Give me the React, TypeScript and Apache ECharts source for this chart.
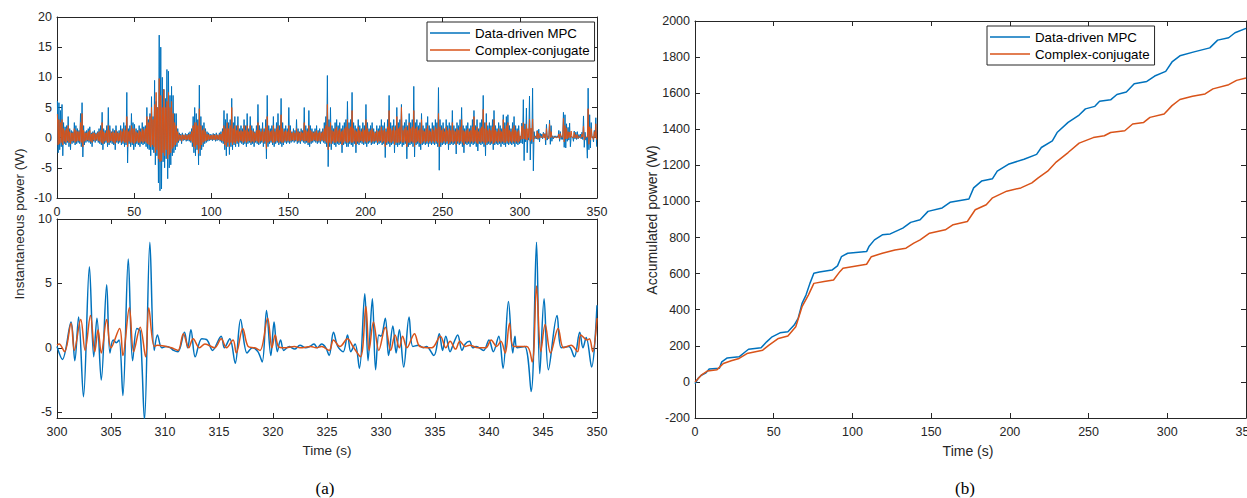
import React, { useEffect, useRef } from "react";
import * as echarts from "echarts";

// ---- (a) top: instantaneous power, 1 s bins, peak / trough per bin, t = 0..349 s
const mpcPeak = [
  6.1, 5.8, 4.5, 5.5, 2.5, 1.8, 2.0, 3.5, 1.5, 1.2,
  1.0, 2.5, 2.0, 1.5, 1.2, 4.0, 5.8, 2.0, 1.0, 1.2,
  1.5, 1.8, 0.8, 1.0, 1.2, 0.8, 1.0, 1.5, 2.0, 4.2,
  1.5, 1.2, 2.0, 5.0, 2.0, 1.0, 1.5, 1.2, 2.0, 1.0,
  1.2, 2.0, 1.5, 2.5, 2.0, 7.5, 1.5, 2.0, 4.0, 2.5,
  2.2, 1.5, 1.2, 2.0, 1.5, 2.5, 1.8, 2.0, 5.0, 3.0,
  4.0, 6.8, 3.5, 9.5, 6.0, 5.0, 17.0, 15.0, 10.0, 8.0,
  6.5, 11.3, 11.0, 7.0, 8.5, 7.0, 4.0, 4.0, 1.5, 0.8,
  0.6, 0.8, 0.5, 0.7, 0.6, 0.8, 1.0, 1.5, 3.5, 5.0,
  4.0, 3.0, 8.7, 3.5, 2.0, 2.5, 1.5, 1.0, 0.8, 0.6,
  0.5, 0.7, 0.6, 0.8, 0.5, 0.8, 1.0, 1.5, 4.5, 3.0,
  4.0, 2.5, 3.0, 6.5, 2.5, 3.5, 2.0, 3.5, 1.5, 2.0,
  1.5, 3.0, 2.0, 4.0, 1.5, 3.5, 2.0, 1.5, 1.0, 2.0,
  5.5, 2.0, 1.5, 2.5, 1.5, 3.0, 7.0, 2.0, 1.5, 2.0,
  3.5, 1.5, 2.5, 4.0, 2.0, 6.5, 2.5, 1.5, 2.0, 1.5,
  5.0, 2.0, 1.0, 1.5, 1.2, 3.0, 1.5, 1.0, 1.5, 1.2,
  5.0, 2.0, 1.5, 4.5, 2.0, 1.5, 1.0, 1.5, 2.0, 1.2,
  1.5, 1.0, 1.5, 2.5, 3.5, 10.3, 3.0, 5.0, 2.0, 1.5,
  2.5, 3.0, 2.0, 2.5, 1.5, 2.0, 2.5, 3.0, 6.0, 2.5,
  3.0, 7.5, 2.5, 2.0, 1.5, 3.0, 2.0, 1.5, 2.5, 2.0,
  5.5, 2.5, 1.5, 2.0, 2.5, 1.5, 1.0, 2.0, 1.5, 2.0,
  3.0, 2.0, 2.5, 1.5, 3.0, 7.0, 2.5, 2.0, 3.0, 2.0,
  5.0, 2.5, 3.0, 5.5, 2.0, 2.5, 3.0, 2.0, 4.0, 2.5,
  3.0, 8.5, 2.5, 3.0, 2.0, 2.5, 4.0, 2.0, 1.5, 2.5,
  3.5, 2.0, 1.5, 2.5, 2.0, 3.0, 2.5, 8.3, 3.0, 2.0,
  2.5, 1.5, 3.0, 2.0, 2.5, 2.0, 4.5, 2.0, 1.5, 2.5,
  2.0, 3.0, 5.0, 2.0, 1.5, 2.0, 2.5, 1.5, 2.0, 3.0,
  4.5, 2.0, 3.0, 1.5, 2.5, 3.0, 7.0, 2.5, 4.0, 2.0,
  2.5, 2.0, 3.0, 4.5, 2.0, 1.5, 2.5, 2.0, 1.5, 3.8,
  2.5, 3.5, 3.8, 2.0, 1.5, 2.5, 3.5, 2.0, 1.5, 2.0,
  0.2, 2.4, 6.3, 2.3, 4.9, 0.6, 6.9, 1.5, 8.2, 1.0,
  0.3, 1.2, 1.4, 0.7, 0.6, 0.9, 0.7, 2.2, 0.3, 2.9,
  2.0, 0.3, 0.3, 0.3, 0.3, 1.2, 1.0, 0.3, 4.2, 3.8,
  2.3, 1.7, 2.4, 0.2, 0.1, 1.1, 0.9, 1.0, 0.5, 0.6,
  0.9, 3.6, 0.9, 0.1, 8.2, 3.8, 2.5, 0.1, 1.2, 3.3,
];
const mpcTrough = [
  -2.5, -2.0, -1.5, -3.0, -1.0, -1.2, -0.8, -1.5, -2.0, -1.0,
  -0.8, -1.2, -1.0, -0.8, -1.0, -1.5, -3.2, -1.2, -0.8, -0.6,
  -0.8, -1.0, -1.5, -0.6, -0.8, -0.5, -0.8, -1.0, -1.2, -2.0,
  -1.0, -0.8, -1.5, -1.2, -0.8, -1.0, -1.2, -2.0, -0.8, -1.0,
  -0.8, -1.2, -1.0, -1.5, -1.2, -4.2, -1.0, -1.5, -1.2, -2.0,
  -1.5, -1.0, -1.2, -1.5, -1.0, -1.2, -1.0, -1.5, -1.8, -2.0,
  -3.0, -2.0, -2.5, -4.5, -3.0, -7.5, -8.8, -8.5, -4.0, -5.0,
  -3.5, -6.8, -5.0, -4.5, -3.0, -2.5, -2.0, -1.5, -0.8, -0.5,
  -1.0, -0.5, -0.4, -0.6, -0.5, -0.6, -0.8, -1.5, -2.5, -3.0,
  -2.0, -4.5, -3.0, -2.0, -1.5, -1.0, -0.8, -0.6, -0.5, -0.4,
  -0.5, -0.4, -0.6, -0.5, -0.4, -0.6, -0.8, -1.0, -2.0, -3.0,
  -1.5, -2.8, -1.5, -2.0, -1.2, -1.5, -1.0, -1.5, -0.8, -1.0,
  -1.2, -1.0, -1.5, -1.0, -0.8, -1.2, -1.0, -1.5, -0.8, -1.0,
  -1.2, -1.0, -0.8, -1.5, -1.0, -3.5, -1.5, -1.0, -0.8, -1.2,
  -1.5, -1.0, -0.8, -1.2, -1.0, -1.5, -1.2, -0.8, -1.0, -0.8,
  -1.0, -0.8, -0.6, -0.8, -0.6, -1.0, -0.8, -1.0, -0.6, -0.8,
  -1.0, -0.8, -1.2, -1.5, -1.0, -0.8, -0.6, -0.8, -1.0, -0.8,
  -1.0, -0.6, -0.8, -1.0, -1.5, -4.8, -1.5, -2.0, -1.0, -1.2,
  -1.5, -1.0, -1.2, -1.0, -2.5, -1.2, -1.0, -1.5, -1.5, -1.0,
  -1.2, -1.5, -1.0, -2.5, -1.0, -1.2, -0.8, -1.0, -1.2, -1.0,
  -1.5, -1.0, -0.8, -1.2, -1.0, -1.0, -0.8, -1.2, -1.0, -0.8,
  -1.2, -1.0, -3.3, -1.2, -1.0, -1.5, -1.2, -1.0, -2.5, -1.2,
  -1.5, -1.2, -1.0, -1.5, -1.2, -1.0, -3.5, -1.5, -1.2, -1.0,
  -1.5, -3.2, -1.2, -1.0, -1.5, -2.0, -1.2, -1.0, -1.2, -1.0,
  -1.5, -1.0, -1.2, -1.0, -1.2, -1.0, -1.5, -5.4, -1.5, -1.2,
  -1.0, -1.2, -1.0, -2.0, -1.2, -1.0, -1.2, -1.0, -2.7, -1.0,
  -1.2, -1.0, -1.5, -2.5, -1.0, -1.2, -1.0, -1.5, -1.0, -1.2,
  -1.0, -1.5, -2.2, -1.0, -1.2, -1.0, -1.5, -3.0, -1.2, -1.0,
  -1.2, -1.0, -2.0, -1.2, -1.0, -1.2, -1.0, -1.5, -1.0, -1.2,
  -1.5, -1.0, -1.2, -1.0, -1.2, -1.0, -1.5, -1.0, -1.2, -1.0,
  -0.9, -1.0, -3.8, -0.7, -2.5, -0.4, -3.7, -1.0, -5.5, -0.2,
  -0.2, -0.3, -0.7, 0.0, -0.2, 0.0, -1.2, -0.4, 0.0, -1.1,
  -0.6, -0.2, 0.0, 0.0, 0.0, -0.6, -0.3, -0.3, -1.6, -1.7,
  -0.6, -0.4, -1.5, 0.1, -0.6, -0.2, -0.3, -0.2, 0.0, -0.2,
  -0.3, -1.6, -0.4, -3.4, -2.0, -1.7, 0.0, -0.7, 0.0, -1.5,
];
const ccPeak = [
  3.9, 3.0, 2.5, 3.0, 1.5, 1.2, 1.5, 2.0, 1.0, 0.8,
  0.8, 1.5, 1.2, 1.0, 1.0, 2.5, 4.0, 1.2, 0.8, 0.8,
  1.0, 1.2, 0.6, 0.8, 0.8, 0.6, 0.8, 1.0, 1.2, 2.5,
  1.0, 0.8, 1.2, 2.0, 1.2, 0.8, 1.0, 0.8, 1.2, 0.8,
  0.8, 1.2, 1.0, 1.5, 1.2, 3.5, 1.0, 1.2, 2.0, 1.5,
  1.5, 1.0, 0.8, 1.2, 1.0, 1.5, 1.2, 1.5, 3.5, 2.5,
  3.5, 5.0, 3.0, 5.5, 7.5, 5.0, 9.8, 7.0, 5.0, 8.0,
  5.0, 6.0, 7.5, 5.0, 6.0, 4.0, 2.5, 2.0, 1.0, 0.5,
  0.4, 0.5, 0.4, 0.5, 0.4, 0.5, 0.6, 1.0, 2.0, 2.5,
  2.5, 2.0, 4.8, 2.0, 1.2, 1.5, 1.0, 0.6, 0.5, 0.4,
  0.4, 0.5, 0.4, 0.5, 0.4, 0.5, 0.6, 1.0, 2.0, 1.5,
  2.5, 1.5, 2.0, 5.0, 1.5, 2.0, 1.2, 2.0, 1.0, 1.2,
  1.0, 2.0, 1.2, 2.0, 1.0, 2.0, 1.2, 1.0, 0.8, 1.2,
  2.5, 1.2, 1.0, 1.5, 1.0, 1.8, 3.5, 1.2, 1.0, 1.2,
  2.0, 1.0, 1.5, 2.0, 1.2, 3.8, 1.5, 1.0, 1.2, 1.0,
  2.0, 1.2, 0.8, 1.0, 0.8, 1.5, 1.0, 0.8, 1.0, 0.8,
  2.5, 1.2, 1.0, 2.0, 1.2, 1.0, 0.8, 1.0, 1.2, 0.8,
  1.0, 0.8, 1.0, 1.5, 2.0, 5.5, 1.8, 2.5, 1.2, 1.0,
  1.5, 1.8, 1.2, 1.5, 1.0, 1.2, 1.5, 1.8, 3.0, 1.5,
  1.8, 4.5, 1.5, 1.2, 1.0, 1.8, 1.2, 1.0, 1.5, 1.2,
  3.0, 1.5, 1.0, 1.2, 1.5, 1.0, 0.8, 1.2, 1.0, 1.2,
  1.8, 1.2, 1.5, 1.0, 1.8, 4.5, 1.5, 1.2, 1.8, 1.2,
  3.5, 1.5, 1.8, 5.0, 1.2, 1.5, 1.8, 1.2, 2.5, 1.5,
  1.8, 4.5, 1.5, 1.8, 1.2, 1.5, 3.0, 1.2, 1.0, 1.5,
  2.0, 1.2, 1.0, 1.5, 1.2, 1.8, 1.5, 4.0, 1.8, 1.2,
  1.5, 1.0, 1.8, 1.2, 1.5, 1.2, 2.5, 1.2, 1.0, 1.5,
  1.2, 1.8, 3.0, 1.2, 1.0, 1.2, 1.5, 1.0, 1.2, 1.8,
  3.5, 1.2, 1.8, 1.0, 1.5, 1.8, 4.7, 1.5, 2.5, 1.2,
  1.5, 1.2, 1.8, 3.0, 1.2, 1.0, 1.5, 1.2, 1.0, 3.0,
  1.5, 2.0, 2.5, 1.2, 1.0, 1.5, 2.0, 1.2, 1.0, 1.2,
  0.3, 1.9, 2.5, 1.4, 2.2, 1.5, 3.1, 1.6, 3.1, 0.2,
  0.1, 1.1, 0.7, 0.3, 0.1, 0.7, 0.6, 1.5, 0.1, 2.3,
  1.0, 0.1, 0.1, 0.1, 0.1, 0.6, 0.7, 0.1, 3.2, 2.0,
  1.6, 1.0, 0.9, 1.1, 0.0, 0.9, 0.5, 0.5, 0.2, 0.0,
  0.6, 1.9, 0.1, 0.1, 4.8, 1.8, 1.5, 0.2, 1.0, 2.3,
];
const ccTrough = [
  -1.2, -1.0, -0.8, -1.2, -0.6, -0.8, -0.5, -0.8, -1.0, -0.6,
  -0.5, -0.8, -0.6, -0.5, -0.6, -0.8, -1.5, -0.6, -0.5, -0.4,
  -0.5, -0.6, -0.8, -0.4, -0.5, -0.3, -0.5, -0.6, -0.8, -1.0,
  -0.6, -0.5, -0.8, -0.8, -0.5, -0.6, -0.8, -1.0, -0.5, -0.6,
  -0.5, -0.8, -0.6, -0.8, -0.8, -1.5, -0.6, -0.8, -0.8, -1.0,
  -0.8, -0.6, -0.8, -0.8, -0.6, -0.8, -0.6, -0.8, -1.0, -1.2,
  -1.5, -1.2, -1.5, -2.5, -2.0, -3.5, -4.0, -3.8, -2.5, -3.0,
  -2.0, -3.5, -2.8, -2.5, -1.8, -1.5, -1.2, -0.8, -0.5, -0.3,
  -0.6, -0.3, -0.3, -0.4, -0.3, -0.4, -0.5, -0.8, -1.5, -1.8,
  -1.2, -2.6, -1.8, -1.2, -0.8, -0.6, -0.5, -0.4, -0.3, -0.3,
  -0.3, -0.3, -0.4, -0.3, -0.3, -0.4, -0.5, -0.6, -1.2, -1.5,
  -0.8, -1.5, -0.8, -1.2, -0.8, -1.0, -0.6, -0.8, -0.5, -0.6,
  -0.8, -0.6, -0.8, -0.6, -0.5, -0.8, -0.6, -0.8, -0.5, -0.6,
  -0.8, -0.6, -0.5, -0.8, -0.6, -1.8, -0.8, -0.6, -0.5, -0.8,
  -0.8, -0.6, -0.5, -0.8, -0.6, -0.8, -0.8, -0.5, -0.6, -0.5,
  -0.6, -0.5, -0.4, -0.5, -0.4, -0.6, -0.5, -0.6, -0.4, -0.5,
  -0.6, -0.5, -0.8, -0.8, -0.6, -0.5, -0.4, -0.5, -0.6, -0.5,
  -0.6, -0.4, -0.5, -0.6, -0.8, -2.0, -0.8, -1.0, -0.6, -0.8,
  -0.8, -0.6, -0.8, -0.6, -1.2, -0.8, -0.6, -0.8, -0.8, -0.6,
  -0.8, -0.8, -0.6, -1.2, -0.6, -0.8, -0.5, -0.6, -0.8, -0.6,
  -0.8, -0.6, -0.5, -0.8, -0.6, -0.6, -0.5, -0.8, -0.6, -0.5,
  -0.8, -0.6, -1.5, -0.8, -0.6, -0.8, -0.8, -0.6, -1.2, -0.8,
  -0.8, -0.8, -0.6, -0.8, -0.8, -0.6, -1.5, -0.8, -0.8, -0.6,
  -0.8, -1.5, -0.8, -0.6, -0.8, -1.0, -0.8, -0.6, -0.8, -0.6,
  -0.8, -0.6, -0.8, -0.6, -0.8, -0.6, -0.8, -1.5, -0.8, -0.8,
  -0.6, -0.8, -0.6, -1.0, -0.8, -0.6, -0.8, -0.6, -1.2, -0.6,
  -0.8, -0.6, -0.8, -1.2, -0.6, -0.8, -0.6, -0.8, -0.6, -0.8,
  -0.6, -0.8, -1.0, -0.6, -0.8, -0.6, -0.8, -1.2, -0.8, -0.6,
  -0.8, -0.6, -1.0, -0.8, -0.6, -0.8, -0.6, -0.8, -0.6, -0.8,
  -0.8, -0.6, -0.8, -0.6, -0.8, -0.6, -0.8, -0.6, -0.8, -0.6,
  -0.3, -0.2, -0.2, -0.3, -0.4, 0.0, -0.6, -0.3, -0.7, 0.1,
  0.0, -0.2, 0.0, 0.0, 0.0, 0.0, -0.4, 0.1, -0.2, 0.0,
  0.1, 0.0, 0.0, 0.0, 0.0, -0.2, 0.1, 0.1, -0.7, -0.2,
  -0.2, 0.0, 0.0, 0.1, 0.0, 0.0, -0.1, -0.1, 0.1, 0.0,
  0.1, -0.4, 0.1, 0.1, -1.1, -0.4, 0.0, -0.3, 0.0, -0.3,
];

// ---- (a) bottom: zoom 300..350 s, [time, power] at turning points
const mpcZoom = [
  [300, 0.1], [300.5, -0.9], [301.3, 2.0], [301.65, -1.0], [302.0, 2.4], [302.45, -3.8], [303.0, 6.3],
  [303.4, -0.7], [303.7, 2.3], [304.1, -2.5], [304.6, 4.9], [304.9, -0.4], [305.2, 0.6], [305.5, 0.4],
  [305.75, 0.6], [306.1, -3.7], [306.6, 6.9], [307.0, -1.0], [307.4, 1.5], [307.7, 1.3], [308.1, -5.6],
  [308.6, 8.2], [309.0, -0.2], [309.3, 1.0], [309.7, 0.0], [310.1, 0.1], [310.5, 0.0], [310.8, -0.2],
  [311.2, -0.3], [311.8, 1.2], [312.1, 0.0], [312.4, 1.4], [312.8, -0.7], [313.4, 0.7], [313.9, 0.6],
  [314.4, -0.2], [315.2, 0.9], [315.5, 0.0], [316.0, 0.7], [316.5, -1.2], [317.0, 2.2], [317.6, -0.4],
  [318.1, 0.0], [318.6, -0.3], [319.0, -1.1], [319.4, 2.9], [319.8, -0.6], [320.1, 2.0], [320.4, -0.3],
  [320.7, 0.6], [321.0, -0.2], [321.5, 0.1], [322.0, -0.1], [322.5, 0.2], [323.0, 0.0], [323.4, 0.1],
  [323.8, 0.3], [324.1, 0.0], [324.5, 0.3], [324.9, 0.0], [325.2, -0.6], [325.6, 1.2], [326.0, 0.1],
  [326.5, -0.3], [326.9, 1.0], [327.2, -0.3], [327.6, 0.3], [328.0, -1.6], [328.5, 4.2], [328.8, -1.0],
  [329.2, 3.8], [329.5, -1.7], [329.8, 1.0], [330.0, 0.9], [330.4, 2.3], [330.7, -0.6], [331.1, 1.7],
  [331.4, -0.4], [331.7, 1.4], [332.1, -1.5], [332.6, 2.4], [332.95, 0.1], [333.5, 0.2], [333.9, 0.0],
  [334.2, 0.1], [334.9, -0.6], [335.4, 1.1], [335.7, -0.2], [336.0, 0.9], [336.4, -0.3], [336.7, 0.3],
  [337.1, 1.0], [337.5, -0.2], [337.8, 0.3], [338.2, 0.5], [338.5, 0.0], [338.8, 0.1], [339.5, -0.2],
  [340.0, 0.6], [340.4, -0.3], [340.9, 0.9], [341.3, -1.6], [341.8, 3.6], [342.2, -0.4], [342.4, 0.9],
  [342.6, 0.0], [343.3, 0.1], [343.9, -3.4], [344.4, 8.2], [344.7, -2.0], [345.1, 3.8], [345.5, -1.7],
  [346.3, 2.5], [346.7, 0.0], [347.4, 0.1], [347.9, -0.7], [348.4, 1.2], [348.7, 0.0], [349.0, 0.8],
  [349.5, -1.5], [350, 3.3],
];
const ccZoom = [
  [300, 0.2], [300.2, 0.3], [300.7, -0.3], [301.3, 1.9], [301.6, -0.2], [302.2, 2.2], [302.6, -0.2],
  [303.1, 2.5], [303.5, -0.3], [303.8, 1.4], [304.1, -0.4], [304.6, 2.2], [305.0, 0.0], [305.8, 1.5],
  [306.1, -0.6], [306.7, 3.1], [307.1, -0.3], [307.7, 1.6], [308.2, -0.7], [308.5, 3.1], [309.0, 0.1],
  [309.3, 0.2], [310.1, 0.1], [310.6, 0.0], [311.2, -0.2], [311.7, 1.1], [312.2, 0.0], [312.6, 0.7],
  [313.2, 0.0], [313.7, 0.3], [314.6, 0.0], [315.2, 0.7], [315.7, 0.0], [316.3, 0.6], [316.6, -0.4],
  [317.2, 1.5], [317.7, 0.1], [318.3, 0.0], [318.8, -0.2], [319.5, 2.3], [319.9, 0.0], [320.2, 1.0],
  [320.5, 0.1], [321.0, 0.0], [322.0, 0.1], [322.5, 0.0], [323.5, 0.1], [324.0, 0.0], [324.5, 0.1],
  [325.2, -0.2], [325.6, 0.6], [326.2, 0.1], [326.9, 0.7], [327.4, 0.1], [328.1, -0.7], [328.6, 3.2],
  [328.9, -0.2], [329.3, 2.0], [329.8, -0.2], [330.4, 1.6], [330.9, -0.2], [331.3, 1.0], [331.7, 0.0],
  [332.0, 0.9], [332.4, 0.0], [333.1, 1.1], [333.6, 0.1], [334.7, 0.0], [335.5, 0.9], [336.0, 0.0],
  [336.4, 0.5], [336.9, -0.1], [337.3, 0.5], [337.8, 0.1], [338.2, 0.2], [339.0, 0.0], [339.7, 0.0],
  [340.2, 0.6], [340.7, 0.1], [341.1, 0.5], [341.5, -0.4], [341.9, 1.9], [342.3, 0.1], [343.5, 0.1],
  [344.0, -1.1], [344.4, 4.8], [344.8, -0.3], [345.2, 1.8], [345.7, -0.4], [346.4, 1.5], [346.9, 0.0],
  [347.6, 0.2], [348.2, -0.3], [348.5, 1.0], [349.1, 0.6], [349.3, 0.7], [349.6, -0.3], [350, 2.3],
];

// ---- (b) accumulated power, [time, W]
const mpcAccum = [
  [0, -10], [2, 20], [4, 37], [7, 50], [9, 72], [15.5, 76], [17, 111], [20.5, 133], [28, 139], [32, 167],
  [34, 181], [42, 189], [45.5, 222], [49, 250], [54, 272], [59, 278], [63, 315], [65.5, 352], [68, 435],
  [70.5, 481], [73, 546], [75.5, 602], [79, 609], [87, 620], [90.5, 643], [93, 694], [97, 713], [109, 722],
  [110.5, 750], [114, 787], [119, 815], [124, 820], [132, 852], [137, 884], [143, 899], [148, 945],
  [157, 964], [162, 995], [174, 1014], [177, 1075], [182, 1113], [189, 1126], [192, 1168], [199, 1206],
  [209, 1234], [217, 1261], [220, 1299], [227, 1336], [230, 1382], [237, 1438], [244, 1479], [248, 1513],
  [254, 1527], [257, 1555], [264, 1563], [268, 1593], [274, 1606], [279, 1652], [287, 1665], [292, 1695],
  [299, 1721], [303, 1773], [308, 1807], [317, 1829], [327, 1851], [332, 1894], [339, 1907], [343, 1935],
  [350, 1959],
];
const ccAccum = [
  [0, 0], [4, 37], [8, 61], [14, 68], [18, 102], [23, 117], [28, 130], [33, 157], [43, 176], [47, 204],
  [53, 241], [59, 254], [64, 306], [68, 417], [72, 481], [75.5, 546], [82, 556], [88, 565], [92, 611],
  [94, 630], [109, 652], [112, 694], [119, 713], [127, 731], [134, 741], [139, 769], [143, 787], [149, 824],
  [159, 843], [164, 871], [173, 889], [178, 954], [185, 982], [189, 1020], [198, 1057], [207, 1075],
  [214, 1103], [218, 1131], [224, 1168], [229, 1215], [237, 1271], [244, 1323], [253, 1354], [260, 1364],
  [264, 1382], [273, 1392], [278, 1429], [285, 1438], [289, 1466], [298, 1485], [303, 1531], [308, 1565],
  [316, 1583], [324, 1596], [329, 1624], [339, 1647], [344, 1671], [350, 1684],
];

const seriesNames = ["Data-driven MPC", "Complex-conjugate"];
const zoomYTicks = [-5, 0, 5, 10];

const BLUE = "#0072BD";
const ORANGE = "#D95319";
const AX = "#262626";
const FONT = "'Liberation Sans', Arial, Helvetica, sans-serif";
const SERIF = "'Liberation Serif', 'Times New Roman', serif";
const TICK_FS = 12.5;

function interleave(peaks: number[], troughs: number[]) {
  const out: number[][] = [];
  for (let i = 0; i < peaks.length; i++) {
    out.push([i + 0.25, peaks[i]]);
    out.push([i + 0.75, troughs[i]]);
  }
  return out;
}

const plain = (v: number) => String(v);

function xAx(grid: number, min: number, max: number, interval: number, pos: string, labels: boolean) {
  return {
    type: "value", gridIndex: grid, min, max, interval, position: pos,
    axisLine: { show: true, onZero: false, lineStyle: { color: AX, width: 1 } },
    axisTick: { show: true, inside: true, length: 5, lineStyle: { color: AX } },
    axisLabel: { show: labels, color: AX, fontSize: TICK_FS, fontFamily: FONT, margin: 7, formatter: plain },
    splitLine: { show: false },
  };
}
function yAx(grid: number, min: number, max: number, interval: number | undefined, pos: string, labels: boolean, custom?: number[]) {
  const ax: any = {
    type: "value", gridIndex: grid, min, max, position: pos,
    axisLine: { show: true, onZero: false, lineStyle: { color: AX, width: 1 } },
    axisTick: { show: true, inside: true, length: 5, lineStyle: { color: AX } },
    axisLabel: { show: labels, color: AX, fontSize: TICK_FS, fontFamily: FONT, margin: 5, formatter: plain },
    splitLine: { show: false },
  };
  if (interval !== undefined) ax.interval = interval;
  if (custom) {
    ax.axisTick.customValues = custom;
    ax.axisLabel.customValues = custom;
  }
  return ax;
}

function legend(left: number, top: number) {
  return {
    data: seriesNames, orient: "vertical", left, top,
    icon: "rect", itemWidth: 40, itemHeight: 1.5, itemGap: 3,
    backgroundColor: "#fff", borderColor: AX, borderWidth: 1, borderRadius: 0,
    padding: [4, 5, 4, 3],
    textStyle: { color: "#000", fontSize: 13.3, lineHeight: 14, fontFamily: FONT },
    selectedMode: false,
  };
}

function line(name: string, color: string, xi: number, data: any, width: number, smooth: any, z: number) {
  return {
    name, type: "line", xAxisIndex: xi, yAxisIndex: xi, data,
    showSymbol: false, symbol: "none", smooth,
    lineStyle: { color, width }, itemStyle: { color }, z, clip: true,
  };
}

function label(text: string, x: number, y: number, rot: number, size: number, family: string, fill: string) {
  return {
    type: "text", x, y, rotation: rot,
    style: {
      text, fontSize: size, fontFamily: family, fill,
      align: "center", verticalAlign: "middle", textAlign: "center", textVerticalAlign: "middle",
    },
  };
}

export default function App() {
  const ref = useRef<HTMLDivElement>(null);
  useEffect(() => {
    if (!ref.current) return;
    const chart = echarts.init(ref.current, undefined, { renderer: "svg" });
    chart.setOption({
      animation: false,
      backgroundColor: "#fff",
      grid: [
        { left: 57, top: 17, width: 540, height: 181, outerBoundsMode: "none", containLabel: false },
        { left: 57, top: 219, width: 540, height: 199, outerBoundsMode: "none", containLabel: false },
        { left: 695, top: 21, width: 551, height: 397, outerBoundsMode: "none", containLabel: false },
      ],
      xAxis: [
        xAx(0, 0, 350, 50, "bottom", true),
        xAx(0, 0, 350, 50, "top", false),
        xAx(1, 300, 350, 5, "bottom", true),
        xAx(1, 300, 350, 5, "top", false),
        xAx(2, 0, 350, 50, "bottom", true),
        xAx(2, 0, 350, 50, "top", false),
      ],
      yAxis: [
        yAx(0, -10, 20, 5, "left", true),
        yAx(0, -10, 20, 5, "right", false),
        yAx(1, -5.45, 10, undefined, "left", true, zoomYTicks),
        yAx(1, -5.45, 10, undefined, "right", false, zoomYTicks),
        yAx(2, -200, 2000, 200, "left", true),
        yAx(2, -200, 2000, 200, "right", false),
      ],
      legend: [legend(427, 22), legend(987, 26)],
      series: [
        line(seriesNames[0], BLUE, 0, interleave(mpcPeak, mpcTrough), 1, false, 2),
        line(seriesNames[1], ORANGE, 0, interleave(ccPeak, ccTrough), 1, false, 3),
        line(seriesNames[0], BLUE, 2, mpcZoom, 1.5, 0.35, 2),
        line(seriesNames[1], ORANGE, 2, ccZoom, 1.5, 0.35, 3),
        line(seriesNames[0], BLUE, 4, mpcAccum, 1.5, false, 2),
        line(seriesNames[1], ORANGE, 4, ccAccum, 1.5, false, 3),
      ],
      graphic: [
        label("Instantaneous power (W)", 19, 224, Math.PI / 2, 13.5, FONT, AX),
        label("Time (s)", 327, 450, 0, 13.5, FONT, AX),
        label("Accumulated power (W)", 652, 220, Math.PI / 2, 14, FONT, AX),
        label("Time (s)", 968, 451, 0, 14, FONT, AX),
        label("(a)", 325, 488, 0, 17, SERIF, "#000"),
        label("(b)", 965, 488, 0, 17, SERIF, "#000"),
      ],
    });
    return () => chart.dispose();
  }, []);
  return (
    <div
      ref={ref}
      style={{ position: "absolute", left: 0, top: 0, width: 1247, height: 498, background: "#fff" }}
    />
  );
}
